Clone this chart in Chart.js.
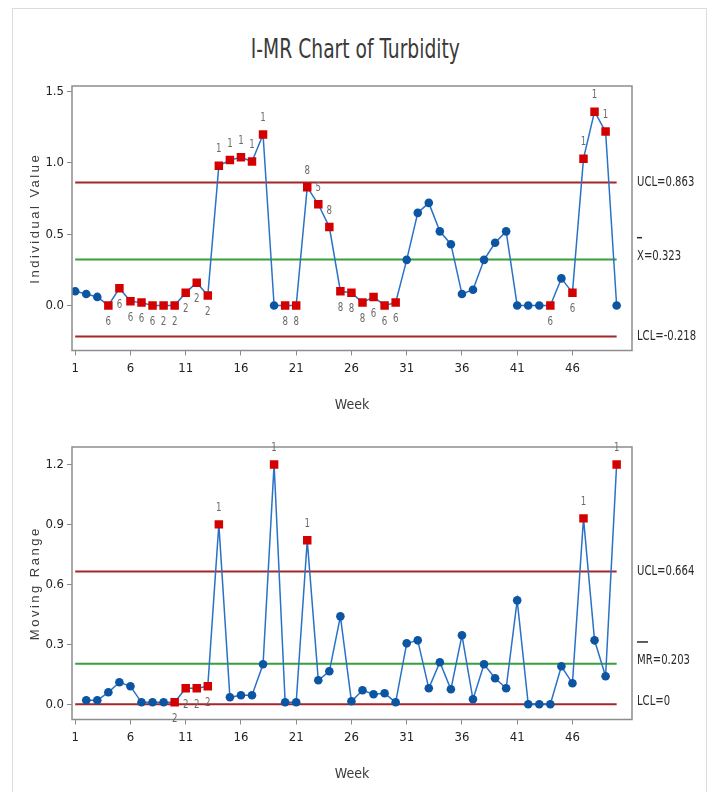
<!DOCTYPE html>
<html><head><meta charset="utf-8">
<script src="https://cdn.jsdelivr.net/npm/chart.js@4.4.1/dist/chart.umd.min.js"></script>
<style>
html,body{margin:0;padding:0;background:#fff;width:711px;height:792px;overflow:hidden;}
#frame{position:absolute;left:12px;top:8px;width:695px;height:820px;border:1px solid #dcdcdc;box-sizing:border-box;}
#title{position:absolute;left:0;top:34px;width:711px;text-align:center;font:26px 'DejaVu Sans Condensed','DejaVu Sans',sans-serif;color:#3a3a3a;transform:scaleX(0.8);transform-origin:355px 0;}
.wrap{position:absolute;left:0;width:711px;}
canvas{display:block;}
</style></head><body>
<div id="frame"></div>
<div id="title">I-MR Chart of Turbidity</div>
<div class="wrap" style="top:0;height:420px"><canvas id="c1" width="711" height="420"></canvas></div>
<div class="wrap" style="top:420px;height:372px"><canvas id="c2" width="711" height="372"></canvas></div>
<script>
// ---- data ----
const weeks = [1,2,3,4,5,6,7,8,9,10,11,12,13,14,15,16,17,18,19,20,21,22,23,24,25,26,27,28,29,30,31,32,33,34,35,36,37,38,39,40,41,42,43,44,45,46,47,48,49,50];
const individual = [0.10,0.08,0.06,0.00,0.12,0.03,0.02,0.00,0.00,0.00,0.09,0.16,0.07,0.98,1.02,1.04,1.01,1.20,0.00,0.00,0.00,0.83,0.71,0.55,0.10,0.09,0.02,0.06,0.00,0.02,0.32,0.65,0.72,0.52,0.43,0.08,0.11,0.32,0.44,0.52,0.00,0.00,0.00,0.00,0.19,0.09,1.03,1.36,1.22,0.00];
const movingRange = [null,0.02,0.02,0.06,0.11,0.09,0.01,0.01,0.01,0.01,0.08,0.08,0.09,0.90,0.035,0.045,0.045,0.20,1.20,0.01,0.01,0.82,0.12,0.165,0.44,0.015,0.07,0.05,0.055,0.01,0.305,0.32,0.08,0.21,0.075,0.345,0.025,0.20,0.13,0.08,0.52,0.00,0.00,0.00,0.19,0.105,0.93,0.32,0.14,1.20];
const individualTests = ['','','','6','6','6','6','6','2','2','2','2','2','1','1','1','1','1','','8','8','8','5','8','8','8','8','6','6','6','','','','','','','','','','','','','','6','','6','1','1','1',''];
const movingRangeTests = ['','','','','','','','','','2','2','2','2','1','','','','','1','','','1','','','','','','','','','','','','','','','','','','','','','','','','','1','','','1'];
const individualLimits = {ucl:0.863, center:0.323, lcl:-0.218};
const movingRangeLimits = {ucl:0.664, center:0.203, lcl:0};
const individualLimitLabels = ['UCL=0.863','X=0.323','LCL=-0.218'];
const movingRangeLimitLabels = ['UCL=0.664','MR=0.203','LCL=0'];
const weekTicks = [1,6,11,16,21,26,31,36,41,46];
const individualTicks = [0.0,0.5,1.0,1.5];
const movingRangeTicks = [0.0,0.3,0.6,0.9,1.2];
const chartTitle = 'I-MR Chart of Turbidity';
const xTitle = 'Week';
const yTitles = ['Individual Value','Moving Range'];

// ---- styles ----
const NARROW = "'DejaVu Sans Condensed','DejaVu Sans',sans-serif";
const REG = "'Liberation Sans','DejaVu Sans',sans-serif";
const C_LINE = '#2a72c6', C_DOT = '#0b55a3', C_RED = '#d40000', C_LIM = '#a3262a', C_CL = '#36a03a';
const SQUEEZE = 0.8;

document.getElementById('title').textContent = chartTitle;

function squeezedText(ctx, text, x, y, align) {
  ctx.save();
  ctx.translate(x, y);
  ctx.scale(SQUEEZE, 1);
  ctx.textAlign = align;
  ctx.fillText(text, 0, 0);
  ctx.restore();
}

function makeChart(canvas, values, tests, limits, limitLabels, yTicks, yMin, yMax, yTitle, pad, barWidth) {
  const pts = weeks.map((w,i)=>({x:w, y:values[i]}));
  const flagged = tests.map(t => t !== '');
  const limLine = v => [{x:weeks[0], y:v},{x:weeks[weeks.length-1], y:v}];
  const limDs = (v,c) => ({data:limLine(v), borderColor:c, borderWidth:2, pointRadius:0, order:2, fill:false});

  const decor = {
    id:'decor',
    afterDatasetsDraw(chart){
      const ctx = chart.ctx, a = chart.chartArea, xs = chart.scales.x, ys = chart.scales.y;
      ctx.save();
      // frame
      ctx.strokeStyle = '#8d8d8d'; ctx.lineWidth = 1.5;
      ctx.strokeRect(a.left, a.top, a.right-a.left, a.bottom-a.top);
      // test labels
      ctx.font = '12px ' + NARROW; ctx.fillStyle = '#6a6a6a';
      ctx.textBaseline = 'middle';
      tests.forEach((t,i)=>{
        if (!t || values[i] == null) return;
        const px = xs.getPixelForValue(weeks[i]);
        const py = ys.getPixelForValue(values[i]);
        squeezedText(ctx, t, px, values[i] > limits.center ? py - 16.5 : py + 16.5, 'center');
      });
      // limit labels
      ctx.font = '14px ' + NARROW; ctx.fillStyle = '#2a2a2a';
      const lx = a.right + 5;
      const yU = ys.getPixelForValue(limits.ucl), yC = ys.getPixelForValue(limits.center), yL = ys.getPixelForValue(limits.lcl);
      squeezedText(ctx, limitLabels[0], lx, yU, 'left');
      squeezedText(ctx, limitLabels[1], lx, yC - 3, 'left');
      squeezedText(ctx, limitLabels[2], lx, yL - (limits.lcl === 0 ? 2.5 : 0), 'left');
      ctx.fillRect(lx, yC - 22.5, barWidth, 1.5);
      // y title
      ctx.save();
      ctx.translate(a.left - 37, (a.top + a.bottom)/2);
      ctx.rotate(-Math.PI/2);
      ctx.font = '13px ' + REG; ctx.fillStyle = '#3c3c3c';
      try { ctx.letterSpacing = '2.5px'; } catch(e) {}
      ctx.textAlign = 'center'; ctx.textBaseline = 'middle';
      ctx.fillText(yTitle, 0, 0);
      ctx.restore();
      ctx.restore();
    }
  };

  return new Chart(canvas, {
    type:'line',
    data:{datasets:[
      {data:pts, borderColor:C_LINE, borderWidth:1.5, order:0, fill:false, spanGaps:false,
       pointStyle: flagged.map(f => f ? 'rect' : 'circle'),
       pointRadius: flagged.map(f => f ? 6 : 4.3),
       pointBackgroundColor: flagged.map(f => f ? C_RED : C_DOT),
       pointBorderColor: flagged.map(f => f ? C_RED : C_DOT),
       pointBorderWidth: 0},
      limDs(limits.ucl, C_LIM),
      limDs(limits.center, C_CL),
      limDs(limits.lcl, C_LIM)
    ]},
    options:{
      responsive:false, animation:false, devicePixelRatio:1, events:[],
      layout:{padding:pad},
      plugins:{legend:{display:false}, tooltip:{enabled:false}, title:{display:false}},
      scales:{
        x:{type:'linear', position:'bottom', min:0.71, max:51.39,
           afterBuildTicks: s => { s.ticks = weekTicks.map(v=>({value:v})); },
           afterFit: s => { s.height = 63.5; },
           ticks:{font:{family:NARROW, size:13}, color:'#222', padding:5, maxRotation:0, autoSkip:false, callback:v=>String(v)},
           grid:{drawOnChartArea:false, drawTicks:true, tickLength:5, color:'#8d8d8d'},
           border:{display:false},
           title:{display:true, text:xTitle, font:{family:NARROW, size:14}, color:'#3a3a3a', padding:0}},
        y:{type:'linear', min:yMin, max:yMax,
           afterBuildTicks: s => { s.ticks = yTicks.map(v=>({value:v})); },
           afterFit: s => { s.width = 45; },
           ticks:{font:{family:NARROW, size:13}, color:'#222', padding:3, callback:v=>Number(v).toFixed(1)},
           grid:{drawOnChartArea:false, drawTicks:true, tickLength:5, color:'#8d8d8d'},
           border:{display:false},
           title:{display:false}}
      }
    },
    plugins:[decor]
  });
}

makeChart(document.getElementById('c1'), individual, individualTests, individualLimits, individualLimitLabels,
  individualTicks, -0.316, 1.54, yTitles[0], {left:27, right:79, top:86, bottom:6}, 5);
makeChart(document.getElementById('c2'), movingRange, movingRangeTests, movingRangeLimits, movingRangeLimitLabels,
  movingRangeTicks, -0.076, 1.287, yTitles[1], {left:27, right:79, top:27, bottom:9}, 11);
</script>
</body></html>
